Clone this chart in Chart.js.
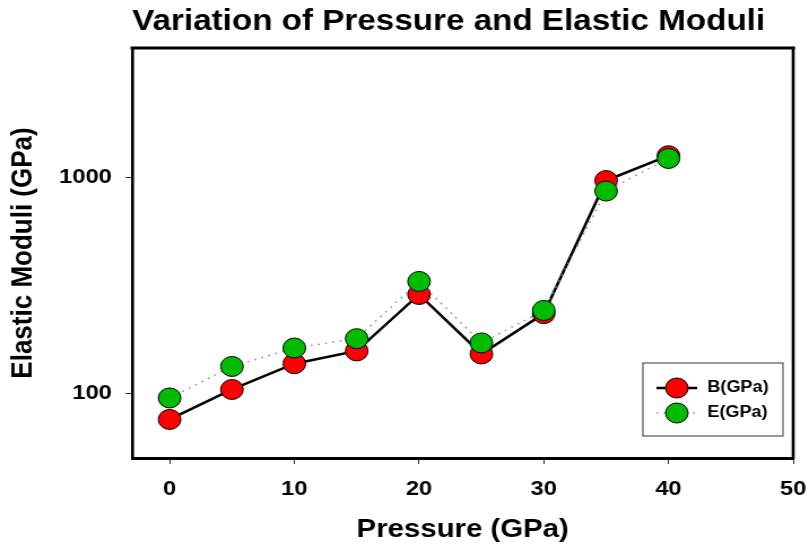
<!DOCTYPE html>
<html>
<head>
<meta charset="utf-8">
<script src="https://cdn.jsdelivr.net/npm/chart.js@4.4.1/dist/chart.umd.min.js"></script>
<style>
html, body { margin: 0; padding: 0; background: #fff; overflow: hidden; }
/* the reference picture is stretched sideways, so the canvas is too */
#wrap { width: 716px; height: 550px; transform: scaleX(1.12989); transform-origin: 0 0; }
</style>
</head>
<body>
<div id="wrap"><canvas id="chart" width="716" height="550"></canvas></div>
<script>
// Pressure (GPa) and the two moduli
const pressure = [0, 5, 10, 15, 20, 25, 30, 35, 40];
const bulkModulus = [75.5, 104, 137, 157, 287, 152, 234, 970, 1265];
const youngModulus = [95, 133, 162, 179, 330, 171, 242, 867, 1228];

const seriesLabels = ['B(GPa)', 'E(GPa)'];
const xTicks = [0, 10, 20, 30, 40, 50];
const yTicks = [100, 1000];

const fontFamily = '"Liberation Sans", Arial, sans-serif';

function toPoints(values) {
    return pressure.map((p, i) => ({ x: p, y: values[i] }));
}

// Top and right sides of the box
const framePlugin = {
    id: 'frame',
    afterDraw(chart) {
        const { ctx, chartArea: a } = chart;
        ctx.save();
        ctx.strokeStyle = '#000';
        ctx.lineCap = 'square';
        ctx.lineWidth = 3;
        ctx.beginPath();
        ctx.moveTo(a.left, a.top);
        ctx.lineTo(a.right, a.top);
        ctx.stroke();
        ctx.lineWidth = 2.6;
        ctx.beginPath();
        ctx.moveTo(a.right, a.top);
        ctx.lineTo(a.right, a.bottom);
        ctx.stroke();
        ctx.restore();
    }
};

// Legend box in the lower right corner of the plot
const legendPlugin = {
    id: 'boxLegend',
    afterDraw(chart) {
        const { ctx, chartArea: a } = chart;
        const left = a.right - 133;
        const top = a.bottom - 95;
        ctx.save();
        ctx.fillStyle = '#fff';
        ctx.fillRect(left, top, 124, 73);
        ctx.strokeStyle = '#333';
        ctx.lineWidth = 1;
        ctx.strokeRect(left, top, 124, 73);

        chart.data.datasets.forEach((ds, i) => {
            const y = top + 25 + i * 25;
            ctx.save();
            ctx.strokeStyle = ds.borderColor;
            ctx.lineWidth = ds.borderWidth;
            ctx.setLineDash(ds.borderDash || []);
            ctx.beginPath();
            ctx.moveTo(left + 12, y);
            ctx.lineTo(left + 48, y);
            ctx.stroke();
            ctx.restore();

            ctx.beginPath();
            ctx.arc(left + 30, y, ds.pointRadius, 0, Math.PI * 2);
            ctx.fillStyle = ds.pointBackgroundColor;
            ctx.fill();
            ctx.lineWidth = 1;
            ctx.strokeStyle = '#000';
            ctx.stroke();

            ctx.fillStyle = '#000';
            ctx.font = 'bold 16px ' + fontFamily;
            ctx.textBaseline = 'middle';
            ctx.textAlign = 'left';
            ctx.fillText(ds.label, left + 57, y);
        });
        ctx.restore();
    }
};

document.addEventListener('DOMContentLoaded', function() {
    new Chart(document.getElementById('chart'), {
        type: 'line',
        data: {
            datasets: [
                {
                    label: seriesLabels[0],
                    data: toPoints(bulkModulus),
                    borderColor: '#000',
                    borderWidth: 2.5,
                    backgroundColor: '#ff0000',
                    pointBackgroundColor: '#ff0000',
                    pointBorderColor: '#000',
                    pointBorderWidth: 1,
                    pointRadius: 10,
                    tension: 0,
                    order: 1
                },
                {
                    label: seriesLabels[1],
                    data: toPoints(youngModulus),
                    borderColor: '#8c8c8c',
                    borderWidth: 1.5,
                    borderDash: [1.5, 5],
                    backgroundColor: '#00bc00',
                    pointBackgroundColor: '#00bc00',
                    pointBorderColor: '#000',
                    pointBorderWidth: 1,
                    pointRadius: 10,
                    tension: 0,
                    order: 0
                }
            ]
        },
        options: {
            responsive: false,
            animation: false,
            devicePixelRatio: 1,
            layout: { padding: { left: 0, right: 14, top: 0, bottom: 0 } },
            plugins: {
                legend: { display: false },
                tooltip: { enabled: false },
                title: {
                    display: true,
                    text: 'Variation of Pressure and Elastic Moduli',
                    align: 'start',
                    fullSize: false,
                    color: '#000',
                    font: { family: fontFamily, size: 29.4, weight: 'bold' },
                    padding: { top: 4, bottom: 8.7 }
                }
            },
            scales: {
                x: {
                    type: 'linear',
                    min: -3,
                    max: 50,
                    afterBuildTicks: s => { s.ticks = xTicks.map(v => ({ value: v })); },
                    afterFit: s => {
                        s.height = 92;
                        // let the "50" label hang into the right margin
                        s.paddingLeft = 0;
                        s.paddingRight = 0;
                    },
                    grid: { drawOnChartArea: false, drawTicks: true, tickLength: 6, tickColor: '#333', tickWidth: 1 },
                    border: { display: true, color: '#000', width: 3 },
                    ticks: {
                        color: '#000',
                        padding: 13,
                        maxRotation: 0,
                        font: { family: fontFamily, size: 21, weight: 'bold' },
                        callback: v => String(v)
                    },
                    title: {
                        display: true,
                        text: 'Pressure (GPa)',
                        color: '#000',
                        font: { family: fontFamily, size: 26, weight: 'bold' },
                        padding: { top: 0, bottom: 4.5 }
                    }
                },
                y: {
                    type: 'logarithmic',
                    min: 50,
                    max: 4000,
                    afterBuildTicks: s => { s.ticks = yTicks.map(v => ({ value: v })); },
                    afterFit: s => { s.width = 117; },
                    grid: { drawOnChartArea: false, drawTicks: true, tickLength: 6, tickColor: '#333', tickWidth: 1 },
                    border: { display: true, color: '#000', width: 2.6 },
                    ticks: {
                        color: '#000',
                        padding: 12,
                        font: { family: fontFamily, size: 21, weight: 'bold' },
                        callback: v => String(v)
                    },
                    title: {
                        display: true,
                        text: 'Elastic Moduli (GPa)',
                        color: '#000',
                        font: { family: fontFamily, size: 26, weight: 'bold' },
                        padding: { top: 4.8, bottom: 0 }
                    }
                }
            }
        },
        plugins: [framePlugin, legendPlugin]
    });
});
</script>
</body>
</html>
